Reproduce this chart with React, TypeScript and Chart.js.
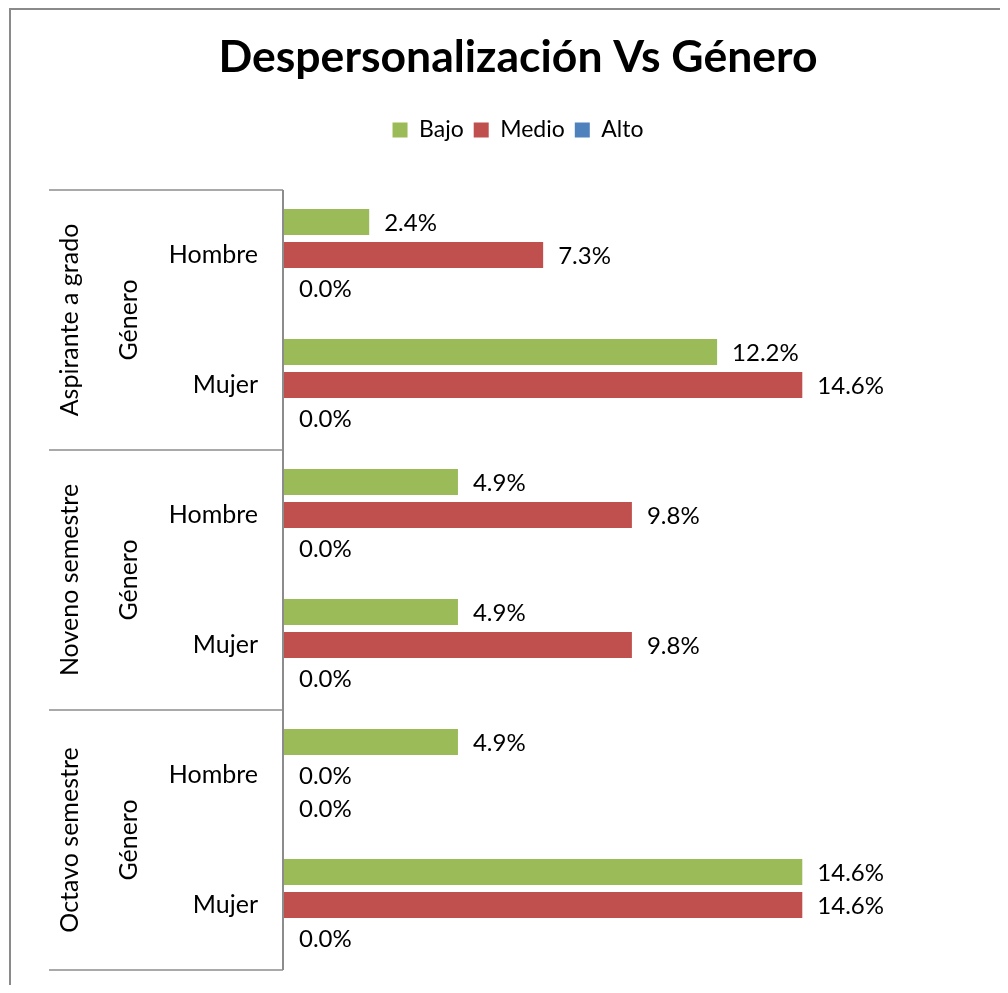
import React, { useEffect, useRef } from "react";
import { Chart, registerables } from "chart.js";

Chart.register(...registerables);

const titleText = "Despersonalización Vs Género";
const groupLabels = ["Aspirante a grado", "Noveno semestre", "Octavo semestre"];
const subLevelLabel = "Género";
const categories = ["Hombre", "Mujer", "Hombre", "Mujer", "Hombre", "Mujer"];
const seriesNames = ["Bajo", "Medio", "Alto"];
const bajo = [2.4, 12.2, 4.9, 4.9, 4.9, 14.6];
const medio = [7.3, 14.6, 9.8, 9.8, 0.0, 14.6];
const alto = [0.0, 0.0, 0.0, 0.0, 0.0, 0.0];
const seriesColors = ["#9BBB59", "#C0504D", "#4F81BD"];
const xMax = 16;

const FONT = "Lato, 'Open Sans', sans-serif";

const multiLevelAxis = {
  id: "multiLevelAxis",
  afterDraw(chart: any) {
    const { ctx, chartArea } = chart;
    const y = chart.scales.y;
    ctx.save();
    // outer chart border
    ctx.strokeStyle = "#8a8a8a";
    ctx.lineWidth = 2;
    ctx.beginPath();
    ctx.moveTo(2, chart.height + 10);
    ctx.lineTo(2, 1);
    ctx.lineTo(chart.width + 10, 1);
    ctx.stroke();

    const step = y.getPixelForValue(1) - y.getPixelForValue(0);
    const top0 = y.getPixelForValue(0) - step / 2;
    const left = chartArea.left;

    // vertical axis line
    ctx.strokeStyle = "#8c8c8c";
    ctx.lineWidth = 2;
    ctx.beginPath();
    ctx.moveTo(left - 1, top0);
    ctx.lineTo(left - 1, top0 + step * categories.length);
    ctx.stroke();

    // group separators
    ctx.lineWidth = 1.5;
    for (let i = 0; i <= categories.length; i += 2) {
      const yy = top0 + i * step;
      ctx.beginPath();
      ctx.moveTo(41, yy);
      ctx.lineTo(left - 1, yy);
      ctx.stroke();
    }

    // category labels
    ctx.fillStyle = "#000";
    ctx.font = `25px ${FONT}`;
    ctx.textAlign = "right";
    ctx.textBaseline = "middle";
    categories.forEach((c, i) => {
      ctx.fillText(c, left - 26, y.getPixelForValue(i));
    });

    // rotated group labels
    groupLabels.forEach((g, gi) => {
      const cy = top0 + (gi * 2 + 1) * step;
      ctx.save();
      ctx.translate(129, cy);
      ctx.rotate(-Math.PI / 2);
      ctx.textAlign = "center";
      ctx.textBaseline = "alphabetic";
      ctx.fillText(subLevelLabel, 0, 0);
      ctx.restore();
      ctx.save();
      ctx.translate(70, cy);
      ctx.rotate(-Math.PI / 2);
      ctx.textAlign = "center";
      ctx.textBaseline = "alphabetic";
      ctx.fillText(g, 0, 0);
      ctx.restore();
    });

    // value labels
    ctx.font = `24px ${FONT}`;
    ctx.textAlign = "left";
    ctx.textBaseline = "middle";
    chart.data.datasets.forEach((ds: any, di: number) => {
      const meta = chart.getDatasetMeta(di);
      meta.data.forEach((bar: any, i: number) => {
        const v = ds.data[i] as number;
        ctx.fillText(`${v.toFixed(1)}%`, bar.x + 15, bar.y + 1);
      });
    });
    ctx.restore();
  },
};

export default function App() {
  const ref = useRef<HTMLCanvasElement | null>(null);
  useEffect(() => {
    if (!ref.current) return;
    const data = [bajo, medio, alto];
    const chart = new Chart(ref.current, {
      type: "bar",
      data: {
        labels: categories,
        datasets: seriesNames.map((name, i) => ({
          label: name,
          data: data[i],
          backgroundColor: seriesColors[i],
          borderWidth: 0,
          barPercentage: 0.788,
          categoryPercentage: 0.7615,
        })),
      },
      options: {
        indexAxis: "y",
        animation: false,
        responsive: false,
        layout: { padding: { left: 176, right: 148, top: 0, bottom: 15 } },
        plugins: {
          title: {
            display: true,
            text: titleText,
            color: "#000",
            font: { family: FONT, size: 44.5, weight: "bold" },
            padding: { top: 23.3, bottom: 23.8 },
          },
          legend: {
            display: true,
            position: "top",
            labels: {
              color: "#000",
              font: { family: FONT, size: 23 },
              boxWidth: 15,
              boxHeight: 15,
              padding: 10,
            },
          },
          tooltip: { enabled: false },
        },
        scales: {
          x: {
            position: "top",
            min: 0,
            max: xMax,
            ticks: { display: false },
            grid: { display: false },
            border: { display: false },
            afterFit: (s: any) => {
              s.height = 38.5;
            },
          },
          y: {
            ticks: { display: false },
            grid: { display: false },
            border: { display: false },
            afterFit: (s: any) => {
              s.width = 100;
            },
          },
        },
      },
      plugins: [multiLevelAxis],
    });
    return () => chart.destroy();
  }, []);
  return (
    <div style={{ width: 992, height: 977 }}>
      <canvas ref={ref} width={992} height={977} style={{ display: "block" }} />
    </div>
  );
}
